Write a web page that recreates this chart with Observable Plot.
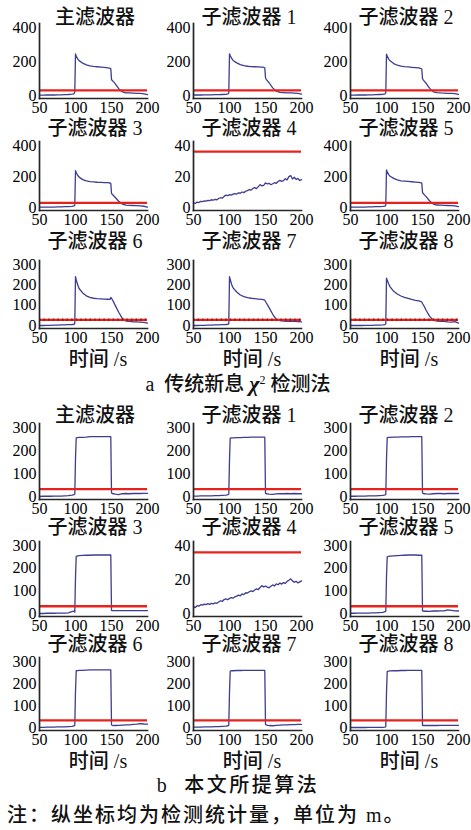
<!DOCTYPE html>
<html><head><meta charset="utf-8">
<script src="https://cdn.jsdelivr.net/npm/d3@7"></script>
<script src="https://cdn.jsdelivr.net/npm/@observablehq/plot@0.6"></script>
<style>
body{margin:0;background:#fff;}
#root{position:relative;width:471px;height:830px;overflow:hidden;font-family:"Liberation Serif","Noto Sans CJK SC",serif;color:#111;}
.txt{position:absolute;white-space:nowrap;transform:translate(-50%,-50%);line-height:0.8;font-size:20px;font-weight:500;}
.panel{position:absolute;}
.panel svg{overflow:visible;}
</style></head><body><div id="root"></div>
<script>
// ---------- data ----------
const titles = ["主滤波器","子滤波器 1","子滤波器 2","子滤波器 3","子滤波器 4","子滤波器 5","子滤波器 6","子滤波器 7","子滤波器 8"];
const xTicks = [50,100,150,200];
const xDomain = [50,200];
const yTicks400 = [0,200,400];
const yTicks300 = [0,100,200,300];
const yTicks40 = [0,20,40];
const xLabel = "时间 /s";
// time grid for the fault curves (s)
const T = [50,55,60,65,70,75,80,85,90,95,98,99,100,101,103,105,110,115,120,125,130,135,140,145,148,149,150,151,153,155,160,165,170,175,180,185,190,195,200];
// time grid for filter 4 (s)
const T4 = [50,52.5,55,57.5,60,62.5,65,67.5,70,72.5,75,77.5,80,82.5,85,87.5,90,92.5,95,97.5,100,102.5,105,107.5,110,112.5,115,117.5,120,122.5,125,127.5,130,132.5,135,137.5,140,142.5,145,147.5,150,152.5,155,157.5,160,162.5,165,167.5,170,172.5,175,177.5,180,182.5,185,187.5,190,192.5,195,197.5,200];

// (a) traditional innovation chi-square test
const aMain = [2,2,3,3,3,4,4,5,6,8,10,20, 245,232,215,205,190,180,174,171,169,167,165,163,160,158, 95,88,80,70,40,22,16,15,14,13,12,9,5];
const aSub1 = [3,3,3,4,4,4,5,5,6,7,9,15, 245,235,218,206,192,182,176,172,170,169,168,167,165,162, 105,95,85,75,45,25,18,17,16,15,14,12,8];
const aSub2 = [2,2,3,3,3,4,4,5,6,7,9,18, 243,232,214,204,188,178,173,170,168,166,164,162,158,156, 100,92,82,72,42,22,17,15,14,13,13,11,7];
const aSub3 = [2,2,2,3,3,4,4,5,6,7,10,15, 238,226,208,196,180,172,167,165,163,162,161,160,158,156, 92,85,76,66,40,22,15,14,13,12,11,8,3];
const aSub4 = [3.0,2.6,3.5,3.2,4.0,3.8,4.3,4.1,4.6,4.4, 5.0,4.7,5.3,5.0,5.8,6.3,6.0,7.2,8.0,7.6, 8.3,8.0,8.6,9.0,8.7,9.4,9.2,10.0,9.6,10.5, 10.9,11.6,11.2,12.3,12.8,12.2,13.5,14.8,13.9,14.3, 15.9,15.2,15.6,14.7,15.3,16.0,15.6,16.8,17.5,16.9, 17.3,18.6,17.8,19.9,20.6,18.4,19.5,18.1,18.7,17.4, 18.0];
const aSub5 = [2,2,3,3,3,4,4,5,6,7,9,16, 242,230,212,202,188,178,172,170,168,166,164,162,159,157, 98,90,80,70,42,22,16,15,14,13,12,10,6];
const aSub6 = [0,0,1,1,2,2,3,3,4,5,6,10, 240,225,200,182,160,146,138,134,132,131,130,129,128,138, 135,128,115,100,65,35,22,20,18,18,17,15,12];
const aSub7 = [0,0,1,1,2,2,3,3,4,5,6,10, 240,226,202,185,165,150,142,137,134,132,130,128,126,124, 118,112,100,88,55,30,24,22,21,20,20,19,18];
const aSub8 = [0,0,0,0,1,1,1,2,2,3,4,8, 233,222,205,190,168,155,145,138,133,128,124,121,117,115, 108,102,90,75,45,26,22,21,20,18,17,19,12];
const aThreshold = [30,30,30, 30,36,30, 28,28,28];
const aYMax = [400,400,400, 400,40,400, 300,300,300];

// (b) proposed algorithm
const bMain = [0,1,1,1,2,2,2,3,4,6,8,10, 165,255,256,257,257,258,260,260,260,260,260,260,260,260, 15,13,12,10,8,12,13,12,13,14,13,14,14];
const bSub1 = [2,2,3,3,3,3,4,4,5,6,8,10, 160,254,255,255,256,256,257,257,258,258,258,258,258,258, 14,12,11,10,9,11,12,12,13,12,13,12,12];
const bSub2 = [1,1,2,2,2,3,3,3,4,5,7,9, 162,256,257,257,258,258,259,259,259,260,260,260,260,260, 15,13,12,11,10,12,13,13,12,13,14,13,13];
const bSub3 = [0,0,1,1,1,2,2,2,3,8,10,6, 160,252,254,255,256,257,257,258,258,258,258,258,258,258, 14,13,13,13,13,13,13,13,13,13,13,13,13];
const bSub4 = [4.0,3.5,4.6,4.3,5.2,4.9,5.5,5.2,5.8,5.4, 6.0,5.7,6.3,6.0,6.8,7.5,7.1,8.2,8.6,8.1, 8.9,9.3,9.0,9.8,10.2,10.8,10.4,11.5,11.1,12.2, 12.0,12.8,13.3,12.9,13.8,14.5,14.1,15.3,16.4,15.6, 16.2,15.5,15.1,16.0,16.8,16.2,17.4,16.9,17.9,17.3, 18.2,17.7,18.9,19.6,20.4,19.2,18.4,18.9,18.0,18.6, 19.2];
const bSub5 = [1,1,2,2,2,2,3,3,4,5,8,10, 163,250,252,253,254,255,256,257,258,258,258,257,257,257, 12,11,10,10,9,11,11,12,12,16,14,12,11];
const bSub6 = [1,1,2,2,2,3,3,3,4,5,7,9, 165,258,259,260,260,261,262,262,262,262,262,262,262,262, 12,10,9,9,10,11,12,12,14,15,18,16,15];
const bSub7 = [2,2,2,3,3,3,4,4,5,6,8,10, 160,256,258,258,259,259,260,260,260,260,260,260,260,260, 14,12,10,9,8,10,11,12,12,13,13,14,14];
const bSub8 = [0,0,0,0,0,1,1,1,1,1,2,4, 158,255,256,257,258,258,259,259,260,260,260,260,260,260, 10,9,9,9,9,9,9,10,10,10,10,10,10];
const bThreshold = [32,32,32, 32,36,32, 32,32,32];
const bYMax = [300,300,300, 300,40,300, 300,300,300];

const captionA = ["a", "传统新息", "χ", "2", "检测法"];
const captionB = ["b", "本文所提算法"];
const note = "注：纵坐标均为检测统计量，单位为 m。";

// ---------- layout ----------
const BLUE = "#3d3d91", RED = "#e5231c", AXIS = "#262626";
const colLeft = [0,154,311];
const ML = 39, MR = 8, MT = 10, MB = 24, W = 155;
const frameA = [[23,98],[141,210],[260,328]];
const frameB = [[423,499],[541,616],[657,730]];
const titleYA = [17,128,241];
const titleYB = [415,527,644];
const root = document.getElementById("root");

function addText(html, x, y, extra){
  const d = document.createElement("div");
  d.className = "txt";
  d.style.left = x + "px"; d.style.top = y + "px";
  if (extra) Object.assign(d.style, extra);
  d.innerHTML = html;
  root.appendChild(d);
}

function panel(i, series, thr, ymax, frames, titleY, dotted){
  const r = Math.floor(i/3), c = i % 3;
  const [ft, fb] = frames[r];
  const isF4 = ymax === 40;
  const times = isF4 ? T4 : T;
  const data = times.map((t,k) => ({t, v: series[k]}));
  const yt = ymax === 400 ? yTicks400 : ymax === 300 ? yTicks300 : yTicks40;
  const marks = [
    Plot.line(data, {x:"t", y:"v", stroke:BLUE, strokeWidth:1.3}),
    Plot.ruleY([thr], {stroke:RED, strokeWidth:2.3})
  ];
  if (dotted && !isF4) marks.push(Plot.ruleY([thr], {stroke:"#a31212", strokeWidth:2.5, strokeDasharray:"1.4,3.2"}));
  marks.push(Plot.frame({anchor:"left", stroke:AXIS, strokeWidth:1.7}));
  marks.push(Plot.frame({anchor:"bottom", stroke:AXIS, strokeWidth:1.7}));
  const svg = Plot.plot({
    width: W, height: (fb-ft)+MT+MB,
    marginLeft: ML, marginRight: MR, marginTop: MT, marginBottom: MB,
    style: {fontFamily:"Liberation Serif, serif", fontSize:"16px", color:"#000", background:"transparent", overflow:"visible"},
    x: {domain: xDomain, ticks: xTicks, tickSize: 0, tickPadding: 3, label: null},
    y: {domain: [0, ymax], ticks: yt, tickSize: 0, tickPadding: 3, label: null, insetTop: 4, insetBottom: 3},
    marks
  });
  const d = document.createElement("div");
  d.className = "panel";
  d.style.left = colLeft[c] + "px";
  d.style.top = (ft - MT) + "px";
  d.appendChild(svg);
  root.appendChild(d);
  const cx = colLeft[c] + ML + (W-ML-MR)/2 + 2;
  addText(titles[i], cx, titleY[r]);
  if (r === 2) addText(xLabel, cx + 3, fb + 31);
}

const seriesA = [aMain,aSub1,aSub2,aSub3,aSub4,aSub5,aSub6,aSub7,aSub8];
const seriesB = [bMain,bSub1,bSub2,bSub3,bSub4,bSub5,bSub6,bSub7,bSub8];
seriesA.forEach((s,i) => panel(i, s, aThreshold[i], aYMax[i], frameA, titleYA, i >= 6));
seriesB.forEach((s,i) => panel(i, s, bThreshold[i], bYMax[i], frameB, titleYB, false));

addText(`${captionA[0]}&nbsp;&nbsp;${captionA[1]}&nbsp;<b><i style="font-size:22px">${captionA[2]}</i></b><sup style="font-size:12px">${captionA[3]}</sup>&nbsp;${captionA[4]}`, 238, 384);
addText(`${captionB[0]}&nbsp;&nbsp;${captionB[1]}`, 238, 785, {letterSpacing:"2.5px"});
addText(note, 7, 815, {transform:"translate(0,-50%)", fontSize:"20px", letterSpacing:"2px"});
</script></body></html>
